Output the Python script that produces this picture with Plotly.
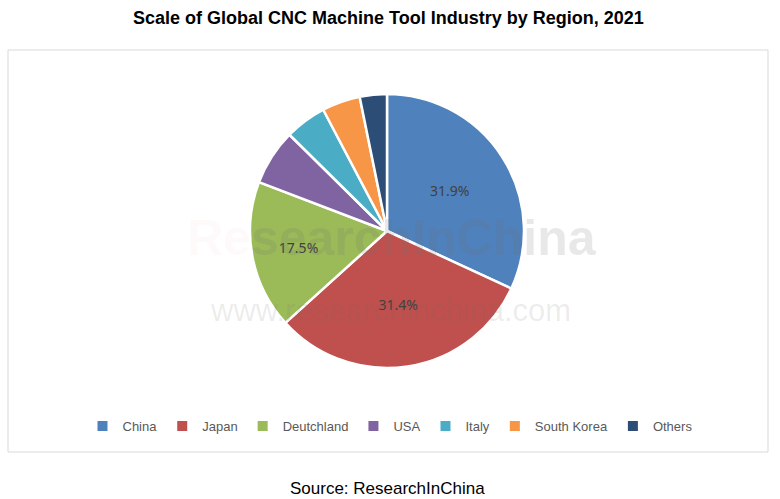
import plotly.graph_objects as go

W, H = 780, 499

regions = ["China", "Japan", "Deutchland", "USA", "Italy", "South Korea", "Others"]
shares = [31.9, 31.4, 17.5, 6.6, 4.9, 4.5, 3.2]
shown_labels = ["31.9%", "31.4%", "17.5%", "", "", "", ""]
colors = ["#4F81BD", "#C0504D", "#9BBB59", "#8064A2", "#4BACC6", "#F79646", "#2C4D75"]

def px_x(x):
    return x / W

def px_y(y):
    return 1 - y / H

fig = go.Figure()
fig.add_trace(go.Pie(
    labels=regions,
    values=shares,
    text=shown_labels,
    textinfo="text",
    textposition="inside",
    insidetextorientation="horizontal",
    textfont=dict(family="Noto Sans, Liberation Sans, sans-serif", size=14, color="#404040"),
    marker=dict(colors=colors, line=dict(color="white", width=2.5)),
    sort=False,
    direction="clockwise",
    rotation=0,
    hole=0,
    domain=dict(x=[px_x(250), px_x(524)], y=[px_y(368), px_y(94)]),
    showlegend=True,
))

annotations = [
    dict(text="<b>Scale of Global CNC Machine Tool Industry by Region, 2021</b>",
         x=px_x(388), y=px_y(18), xref="paper", yref="paper", showarrow=False,
         font=dict(family="Liberation Sans, Arial", size=18, color="black"),
         xanchor="center", yanchor="middle"),
    dict(text="Source: ResearchInChina",
         x=px_x(387), y=px_y(488), xref="paper", yref="paper", showarrow=False,
         font=dict(family="Liberation Sans, Arial", size=17, color="black"),
         xanchor="center", yanchor="middle"),
    dict(text="<b><span style='color:rgba(230,80,80,0.16)'>Re</span>searchInChina</b>",
         x=px_x(392), y=px_y(238), xref="paper", yref="paper", showarrow=False,
         font=dict(family="Liberation Sans, Arial", size=50, color="rgba(110,110,110,0.16)"),
         xanchor="center", yanchor="middle"),
    dict(text="www.researchinchina.com",
         x=px_x(390), y=px_y(310), xref="paper", yref="paper", showarrow=False,
         font=dict(family="Liberation Sans, Arial", size=31, color="rgba(110,110,110,0.13)"),
         xanchor="center", yanchor="middle"),
]

fig.update_layout(
    width=W, height=H,
    margin=dict(l=0, r=0, t=0, b=0),
    paper_bgcolor="white",
    plot_bgcolor="white",
    annotations=annotations,
    legend=dict(orientation="h", x=px_x(390), xanchor="center", y=px_y(426), yanchor="middle",
                font=dict(family="Liberation Sans, Arial", size=13, color="#595959"),
                itemsizing="constant", traceorder="normal", itemwidth=30),
    shapes=[dict(type="rect", xref="paper", yref="paper",
                 x0=px_x(8), x1=px_x(768), y0=px_y(452), y1=px_y(50),
                 line=dict(color="#D9D9D9", width=1), fillcolor="rgba(0,0,0,0)", layer="below")],
)

fig.write_html("out.html", config={"displayModeBar": False},
               post_script="document.body.style.margin='0px';document.body.style.overflow='hidden';")
